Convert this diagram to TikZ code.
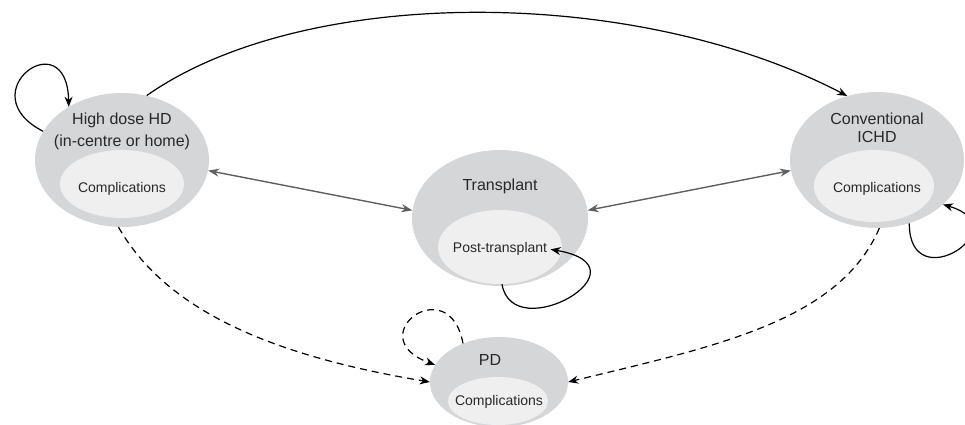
\documentclass[tikz,border=0pt]{standalone}
\usepackage{fontspec}
\setmainfont{Liberation Sans}
\usetikzlibrary{shapes.geometric,arrows.meta}
\definecolor{outergray}{RGB}{213,214,216}
\definecolor{innergray}{RGB}{239,239,240}
\definecolor{labelgray}{RGB}{40,40,40}
\definecolor{linkgray}{RGB}{95,95,95}
\tikzstyle{outerstate}=[ellipse, fill=outergray, inner sep=0pt]
\tikzstyle{innerstate}=[ellipse, fill=innergray, inner sep=0pt]
\tikzstyle{title}=[text=labelgray, align=center, font=\fontsize{16}{18}\selectfont]
\tikzstyle{small}=[text=labelgray, anchor=base, font=\fontsize{14}{16}\selectfont]
\tikzstyle{selfarrow}=[-{Stealth[length=10pt,width=8pt]}, line width=1.2pt, black]
\tikzstyle{dasharrow}=[selfarrow, dash pattern=on 7pt off 5pt]
\tikzstyle{twoway}=[{Stealth[length=11pt,width=8pt]}-{Stealth[length=11pt,width=8pt]}, line width=1.4pt, linkgray]
\newcommand{\state}{\node[outerstate]}
\newcommand{\substate}{\node[innerstate]}

\begin{document}
\begin{tikzpicture}[x=1pt,y=1pt]
	\useasboundingbox (0,0) rectangle (965,425);
	%% the four states, each an outer ellipse with a lighter one inside
	\state (hd) at (122,265) [minimum width=174pt, minimum height=134pt] {};
	\substate (hdin) at (122,241) [minimum width=124pt, minimum height=68pt] {};
	\state (tx) at (500,207) [minimum width=176pt, minimum height=136pt] {};
	\substate (txin) at (500,178) [minimum width=124pt, minimum height=74pt] {};
	\state (ichd) at (877,265) [minimum width=174pt, minimum height=136pt] {};
	\substate (ichdin) at (874,239) [minimum width=120pt, minimum height=72pt] {};
	\state (pd) at (499,43) [minimum width=138pt, minimum height=90pt] {};
	\substate (pdin) at (498,24) [minimum width=100pt, minimum height=48pt] {};
	%% texts
	\node[title] (hdname) at (122,294) {High dose HD\\[4pt](in-centre or home)};
	\node[title] (ichdname) at (877,297) {Conventional\\ICHD};
	\node[title, anchor=base] (txname) at (500,234) {Transplant};
	\node[title, anchor=base] (pdname) at (490,59) {PD};
	\node[small] (hdcomp) at (122,232) {Complications};
	\node[small] (ichdcomp) at (877,232) {Complications};
	\node[small] (txcomp) at (500,172) {Post-transplant};
	\node[small] (pdcomp) at (499,19) {Complications};
	%% solid transitions
	\draw[selfarrow] (hd.69) .. controls (304,440) and (635,440) .. (ichd.115);
	\draw[selfarrow] (hd.160) .. controls (-32,332) and (67,405) .. (hd.135);
	\draw[selfarrow] (txin.-87) .. controls (513,77) and (653,158) .. (txcomp.east);
	\draw[selfarrow] (ichd.-63) .. controls (909,125) and (1020,198) .. (ichd.-34);
	\path
		(hd.-7) edge[twoway] (tx.175)
		(tx.5) edge[twoway] (ichd.187)
	;
	%% dashed transitions into PD
	\draw[dasharrow] (hd.-93) .. controls (168,111) and (280,68) .. (pd.180);
	\draw[dasharrow] (ichd.-88) .. controls (839,104) and (717,79) .. (pd.0);
	\draw[dasharrow] (pd.133) .. controls (449,156) and (359,88) .. (pd.165);
\end{tikzpicture}
\end{document}
